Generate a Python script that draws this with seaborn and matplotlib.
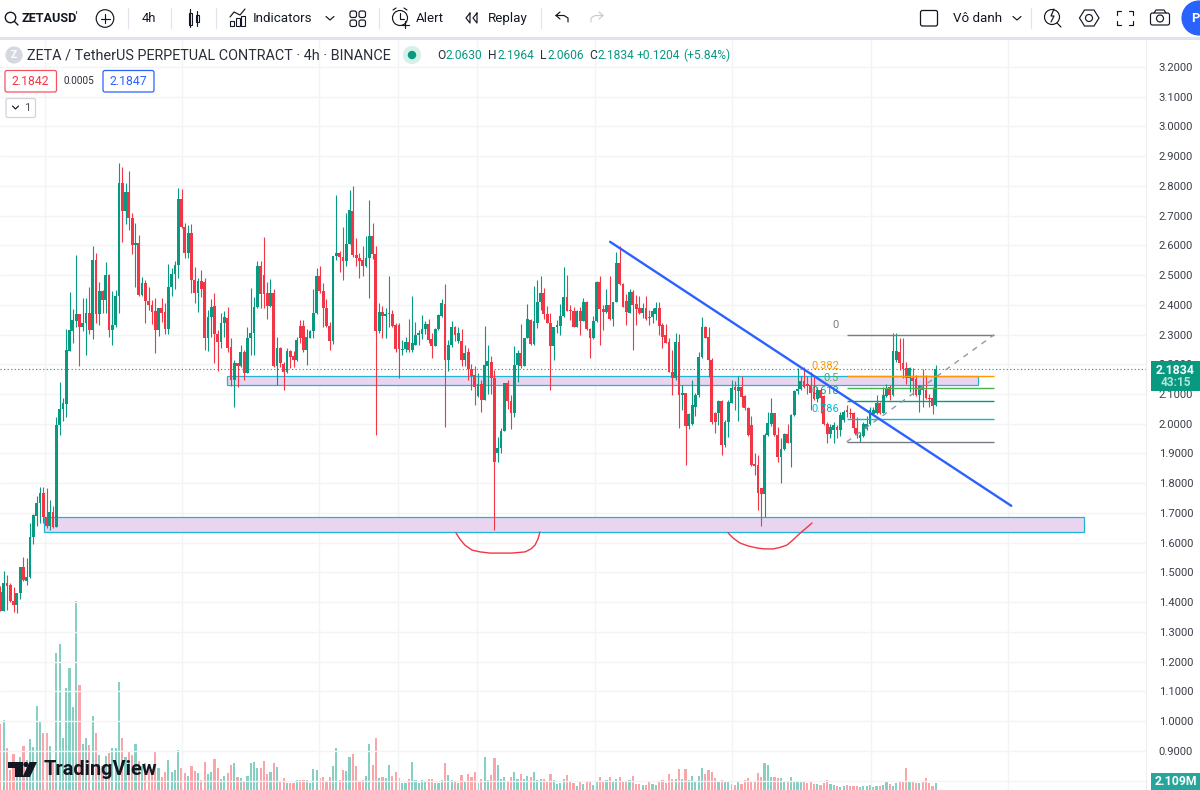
"""
ZETAUSD 4h chart in the style of a TradingView screenshot.
"""

import numpy as np
import pandas as pd
import matplotlib

matplotlib.use("Agg")
import matplotlib.pyplot as plt
from matplotlib.patches import Circle, Polygon, Rectangle, FancyBboxPatch
import seaborn as sns

# OHLC per bar
open_ = [
    1.435, 1.371, 1.463, 1.458, 1.404, 1.39, 1.43, 1.517, 1.472, 1.483,
    1.62, 1.69, 1.732, 1.766, 1.685, 1.656, 1.703, 1.654, 1.996, 2.048,
    2.066, 2.246, 2.313, 2.346, 2.368, 2.327, 2.338, 2.371, 2.315, 2.551,
    2.369, 2.447, 2.416, 2.5, 2.315, 2.331, 2.43, 2.809, 2.717, 2.779,
    2.692, 2.601, 2.609, 2.433, 2.475, 2.413, 2.401, 2.38, 2.315, 2.39,
    2.377, 2.319, 2.461, 2.504, 2.534, 2.756, 2.661, 2.575, 2.64, 2.483,
    2.439, 2.481, 2.476, 2.29, 2.36, 2.396, 2.301, 2.276, 2.34, 2.355,
    2.257, 2.147, 2.203, 2.194, 2.243, 2.172, 2.287, 2.304, 2.394, 2.532,
    2.5, 2.439, 2.397, 2.439, 2.194, 2.254, 2.2, 2.175, 2.245, 2.228,
    2.214, 2.329, 2.329, 2.248, 2.29, 2.312, 2.372, 2.497, 2.447, 2.391,
    2.329, 2.277, 2.565, 2.574, 2.56, 2.546, 2.605, 2.716, 2.566, 2.559,
    2.551, 2.529, 2.557, 2.633, 2.57, 2.312, 2.377, 2.361, 2.37, 2.37,
    2.333, 2.333, 2.247, 2.25, 2.274, 2.249, 2.265, 2.297, 2.302, 2.319, 2.336,
    2.284, 2.262, 2.318, 2.364, 2.402, 2.213, 2.265, 2.324, 2.28, 2.279,
    2.213, 2.24, 2.183, 2.164, 2.092, 2.134, 2.08, 2.193, 2.207, 2.153,
    1.9, 1.92, 1.977, 2.136, 2.077, 2.036, 2.198, 2.237, 2.193, 2.288,
    2.35, 2.269, 2.34, 2.409, 2.439, 2.369, 2.34, 2.26, 2.325, 2.33,
    2.364, 2.428, 2.383, 2.38, 2.327, 2.38, 2.347, 2.41, 2.318, 2.288,
    2.344, 2.478, 2.385, 2.375, 2.4, 2.353, 2.409, 2.54, 2.471, 2.414,
    2.374, 2.444, 2.402, 2.389, 2.372, 2.389, 2.36, 2.36, 2.37, 2.39,
    2.332, 2.298, 2.276, 2.175, 2.153, 2.276, 2.097, 2.102, 1.992, 2.0,
    2.057, 2.097, 2.223, 2.327, 2.293, 2.214, 2.035, 2.035, 2.078, 1.928,
    2.007, 2.07, 2.122, 2.11, 2.122, 2.093, 2.052, 1.995, 1.865, 1.861,
    1.783, 1.763, 1.962, 2.0, 2.035, 1.962, 1.887, 1.915, 1.965, 1.936,
    2.03, 2.11, 2.116, 2.145, 2.133, 2.13, 2.102, 2.082, 2.114, 2.093,
    2.0, 1.965, 1.98, 1.99, 1.979, 2.012, 2.046, 2.037, 2.035, 1.985,
    1.951, 1.959, 1.984, 2.0, 2.033, 2.035, 2.071, 2.037, 2.094, 2.122,
    2.097, 2.214, 2.243, 2.205, 2.186, 2.153, 2.153, 2.15, 2.097,
    2.127, 2.114, 2.088, 2.085, 2.063,
]
high = [
    1.454, 1.506, 1.49, 1.465, 1.452, 1.432, 1.519, 1.553, 1.55, 1.665,
    1.695, 1.757, 1.788, 1.788, 1.783, 1.745, 1.725, 2.022, 2.142, 2.085,
    2.318, 2.442, 2.385, 2.566, 2.368, 2.422, 2.422, 2.459, 2.598, 2.576,
    2.478, 2.45, 2.544, 2.504, 2.447, 2.45, 2.876, 2.862, 2.809, 2.849,
    2.708, 2.674, 2.635, 2.492, 2.484, 2.459, 2.416, 2.422, 2.39, 2.424,
    2.407, 2.537, 2.523, 2.549, 2.792, 2.788, 2.674, 2.668, 2.672, 2.528,
    2.489, 2.517, 2.491, 2.383, 2.418, 2.439, 2.315, 2.371, 2.379, 2.394,
    2.287, 2.214, 2.203, 2.265, 2.248, 2.324, 2.455, 2.425, 2.547, 2.547,
    2.629, 2.476, 2.487, 2.453, 2.293, 2.259, 2.209, 2.254, 2.248, 2.245,
    2.293, 2.35, 2.35, 2.32, 2.316, 2.453, 2.525, 2.529, 2.473, 2.419,
    2.343, 2.565, 2.77, 2.58, 2.661, 2.708, 2.787, 2.801, 2.624, 2.574,
    2.598, 2.63, 2.751, 2.675, 2.598, 2.405, 2.396, 2.389, 2.497, 2.383,
    2.338, 2.338, 2.282, 2.291, 2.353, 2.43, 2.341, 2.316, 2.365, 2.347, 2.352,
    2.304, 2.321, 2.369, 2.419, 2.47, 2.282, 2.344, 2.329, 2.327, 2.318,
    2.265, 2.254, 2.2, 2.193, 2.17, 2.147, 2.33, 2.265, 2.228, 2.18,
    1.955, 1.985, 2.138, 2.147, 2.097, 2.263, 2.249, 2.336, 2.29, 2.402,
    2.353, 2.464, 2.482, 2.497, 2.456, 2.397, 2.374, 2.327, 2.35, 2.402,
    2.526, 2.5, 2.4, 2.394, 2.383, 2.394, 2.422, 2.414, 2.321, 2.361,
    2.48, 2.497, 2.4, 2.453, 2.497, 2.411, 2.579, 2.598, 2.473, 2.437,
    2.454, 2.45, 2.432, 2.43, 2.405, 2.43, 2.383, 2.39, 2.41, 2.41,
    2.338, 2.335, 2.287, 2.248, 2.304, 2.302, 2.13, 2.102, 2.035, 2.147,
    2.102, 2.243, 2.36, 2.329, 2.327, 2.22, 2.04, 2.08, 2.08, 2.013,
    2.08, 2.147, 2.145, 2.16, 2.16, 2.097, 2.055, 2.026, 1.9, 1.895,
    1.783, 1.968, 2.04, 2.085, 2.037, 1.99, 1.951, 1.968, 2.0, 2.032,
    2.114, 2.186, 2.16, 2.19, 2.16, 2.175, 2.164, 2.125, 2.119, 2.097,
    2.007, 2.0, 2.007, 1.996, 2.04, 2.046, 2.063, 2.052, 2.04, 2.024,
    1.973, 2.007, 2.026, 2.057, 2.057, 2.097, 2.074, 2.122, 2.134, 2.13,
    2.304, 2.304, 2.287, 2.287, 2.209, 2.19, 2.186, 2.164, 2.13,
    2.183, 2.164, 2.1, 2.122, 2.1964,
]
low = [
    1.371, 1.371, 1.373, 1.402, 1.368, 1.365, 1.41, 1.472, 1.457, 1.48,
    1.594, 1.656, 1.665, 1.665, 1.65, 1.642, 1.65, 1.652, 1.962, 2.01,
    2.024, 2.244, 2.27, 2.327, 2.194, 2.313, 2.232, 2.302, 2.286, 2.34,
    2.333, 2.374, 2.371, 2.293, 2.264, 2.327, 2.371, 2.612, 2.672, 2.652,
    2.571, 2.461, 2.431, 2.431, 2.34, 2.383, 2.336, 2.237, 2.296, 2.343,
    2.302, 2.302, 2.431, 2.452, 2.489, 2.657, 2.556, 2.556, 2.439, 2.405,
    2.375, 2.427, 2.248, 2.246, 2.291, 2.203, 2.179, 2.254, 2.293, 2.243,
    2.127, 2.055, 2.123, 2.192, 2.147, 2.17, 2.231, 2.231, 2.388, 2.388,
    2.388, 2.351, 2.394, 2.19, 2.13, 2.19, 2.113, 2.17, 2.186, 2.192,
    2.211, 2.27, 2.24, 2.198, 2.288, 2.288, 2.37, 2.441, 2.327, 2.325,
    2.249, 2.269, 2.55, 2.512, 2.484, 2.529, 2.605, 2.562, 2.529, 2.49,
    2.497, 2.527, 2.422, 2.553, 1.963, 2.305, 2.288, 2.29, 2.325, 2.327,
    2.24, 2.153, 2.23, 2.243, 2.243, 2.243, 2.265, 2.265, 2.285, 2.301, 2.271,
    2.22, 2.26, 2.316, 2.36, 1.988, 2.179, 2.257, 2.277, 2.27, 2.195,
    2.193, 2.147, 2.112, 2.063, 2.09, 2.041, 2.08, 2.1, 2.1, 1.642,
    1.87, 1.9, 1.975, 2.05, 1.982, 2.024, 2.14, 2.187, 2.193, 2.288,
    2.265, 2.265, 2.321, 2.383, 2.353, 2.338, 2.112, 2.213, 2.305, 2.299,
    2.36, 2.378, 2.35, 2.325, 2.325, 2.297, 2.344, 2.316, 2.22, 2.286,
    2.342, 2.265, 2.316, 2.372, 2.35, 2.33, 2.409, 2.467, 2.392, 2.333,
    2.372, 2.249, 2.333, 2.37, 2.355, 2.35, 2.333, 2.34, 2.35, 2.3,
    2.254, 2.27, 2.175, 2.097, 2.147, 1.985, 2.046, 1.861, 1.981, 1.996,
    2.026, 2.091, 2.22, 2.287, 2.158, 2.0, 1.968, 1.996, 1.895, 1.923,
    1.957, 2.069, 2.046, 2.01, 2.058, 2.046, 1.959, 1.859, 1.827, 1.71,
    1.656, 1.685, 1.96, 1.992, 1.959, 1.872, 1.802, 1.912, 1.934, 1.853,
    2.026, 2.1, 2.113, 2.12, 2.1, 2.046, 2.08, 2.074, 2.035, 1.996,
    1.934, 1.951, 1.934, 1.951, 1.959, 2.007, 2.024, 2.018, 1.968, 1.951,
    1.94, 1.957, 1.98, 1.996, 2.03, 2.033, 2.033, 2.035, 2.09, 2.08,
    2.093, 2.208, 2.18, 2.153, 2.134, 2.108, 2.097, 2.093, 2.04,
    2.057, 2.082, 2.057, 2.033, 2.0606,
]
close = [
    1.371, 1.463, 1.454, 1.404, 1.39, 1.43, 1.517, 1.474, 1.483, 1.62,
    1.692, 1.732, 1.766, 1.685, 1.656, 1.703, 1.654, 1.996, 2.048, 2.069,
    2.248, 2.315, 2.349, 2.368, 2.327, 2.338, 2.371, 2.315, 2.551, 2.369,
    2.447, 2.416, 2.5, 2.315, 2.331, 2.431, 2.809, 2.717, 2.779, 2.692,
    2.601, 2.609, 2.433, 2.475, 2.413, 2.399, 2.377, 2.315, 2.39, 2.373,
    2.319, 2.461, 2.504, 2.534, 2.756, 2.661, 2.575, 2.64, 2.483, 2.439,
    2.481, 2.453, 2.29, 2.36, 2.394, 2.301, 2.276, 2.34, 2.36, 2.254,
    2.147, 2.203, 2.194, 2.243, 2.172, 2.287, 2.304, 2.394, 2.532, 2.435,
    2.435, 2.397, 2.439, 2.194, 2.254, 2.203, 2.175, 2.245, 2.226, 2.214,
    2.282, 2.29, 2.248, 2.293, 2.312, 2.372, 2.497, 2.445, 2.391, 2.329,
    2.277, 2.565, 2.574, 2.56, 2.546, 2.605, 2.719, 2.566, 2.559, 2.549,
    2.529, 2.557, 2.633, 2.57, 2.312, 2.377, 2.361, 2.37, 2.374, 2.329,
    2.25, 2.25, 2.251, 2.274, 2.249, 2.271, 2.299, 2.305, 2.319, 2.336, 2.282,
    2.262, 2.318, 2.367, 2.405, 2.213, 2.265, 2.324, 2.297, 2.305, 2.215,
    2.237, 2.183, 2.161, 2.125, 2.134, 2.08, 2.196, 2.21, 2.153, 1.871,
    1.92, 1.977, 2.136, 2.075, 2.036, 2.198, 2.237, 2.195, 2.288, 2.352,
    2.269, 2.347, 2.409, 2.439, 2.369, 2.34, 2.26, 2.325, 2.333, 2.364,
    2.428, 2.38, 2.378, 2.327, 2.38, 2.347, 2.409, 2.318, 2.29, 2.344,
    2.478, 2.385, 2.375, 2.4, 2.353, 2.411, 2.54, 2.471, 2.394, 2.377,
    2.444, 2.4, 2.386, 2.372, 2.391, 2.353, 2.357, 2.378, 2.39, 2.33,
    2.293, 2.27, 2.175, 2.153, 2.276, 2.097, 2.102, 1.992, 2.033, 2.063,
    2.097, 2.226, 2.327, 2.29, 2.214, 2.007, 2.007, 2.078, 1.928, 2.007,
    2.074, 2.12, 2.114, 2.122, 2.09, 2.052, 1.962, 1.861, 1.858, 1.766,
    1.763, 1.962, 2.004, 2.035, 1.962, 1.887, 1.915, 1.965, 1.936, 2.03,
    2.11, 2.116, 2.145, 2.122, 2.127, 2.102, 2.082, 2.114, 2.085, 2.0,
    1.965, 1.99, 1.995, 1.979, 2.03, 2.04, 2.04, 2.033, 1.985, 1.962,
    1.962, 2.0, 2.0, 2.046, 2.046, 2.071, 2.035, 2.097, 2.119, 2.097,
    2.245, 2.245, 2.203, 2.183, 2.153, 2.186, 2.145, 2.097, 2.127,
    2.114, 2.085, 2.082, 2.06, 2.1834,
]

# volume in millions
volume = [
    21.7, 23.2, 13.8, 6.6, 11.9, 8.5, 11, 14.4, 9.9, 16.7, 14.1, 27.7, 22.7, 18.9, 18.9,
    14.4, 9.9, 45.2, 48.3, 17, 33.6, 40.4, 27.3, 62.4, 34.8, 15.1, 17, 14.8, 24.4, 18.9,
    11.7, 8, 11.3, 12.2, 14, 14, 35.7, 17, 11, 12.6, 11.7, 15.1, 9.7, 8, 8.8,
    7.4, 6.9, 12.9, 7.1, 4.4, 6, 10, 6, 6.6, 13.1, 7.2, 5.7, 4.7, 7.8, 6.3,
    5.7, 3.3, 9.3, 5.3, 6, 10.2, 7.2, 3.6, 4.7, 5.7, 8.1, 9, 4.3, 4, 3.1,
    4.7, 8.8, 9.3, 7.2, 7.2, 9.7, 5.3, 6, 9, 7.6, 3.1, 4, 2.4, 2.4, 2.2,
    3.3, 3.3, 3.3, 3.3, 2.2, 6.9, 6.6, 4, 4.3, 2.7, 4.3, 7.8, 13.8, 3.3, 6.6,
    6.2, 11, 11.9, 8, 3.1, 3.3, 4.7, 15.3, 8.1, 17, 4, 4.3, 4, 8.4, 4.7,
    6, 4, 2.4, 2.4, 3.7, 9.3, 3.3, 2.4, 3.3, 2.8, 3.7, 3.7, 2.4, 2.2, 3.3,
    8.8, 5, 3.3, 2.8, 2.2, 5, 2.8, 5.3, 4.3, 6, 2.4, 3.7, 11, 3.3, 5,
    10.7, 8.1, 3.6, 4.3, 3, 4.3, 5.9, 3.7, 5.3, 3.7, 4.7, 4.3, 5.9, 3.3, 3.7,
    3.7, 2.8, 5.3, 3.3, 2, 2.2, 3.7, 5, 2.6, 2.2, 1.3, 2.6, 2, 2.6, 3,
    1.7, 3, 4.3, 2.6, 3.3, 4.3, 2.6, 3.7, 4.3, 3, 3, 3.3, 4.7, 2, 2,
    1.7, 1.7, 3, 2, 1.7, 3, 3.3, 2.2, 5.3, 3.7, 3.7, 6.9, 3.7, 6.9, 3.3,
    4.7, 2.8, 4.7, 7.2, 5.3, 6.5, 5.9, 4, 3, 3.3, 2.8, 2.8, 1.9, 1.7, 2.8,
    1.9, 3.4, 3.8, 2.8, 2.6, 5.7, 4.3, 8.9, 8.4, 4.3, 4.3, 4, 4, 2.8, 3.1,
    4.3, 2.8, 2.8, 3.1, 2.6, 2.2, 2.8, 1.9, 1.9, 1.7, 2.2, 3.4, 1.9, 1.7, 1.2,
    0.9, 1.2, 1.7, 1.2, 1.2, 1.2, 0.9, 1.2, 1.2, 1.7, 0.9, 1.2, 1.2, 1.7, 2.6,
    1.9, 1.2, 2.2, 3.1, 2.6, 7.2, 2.6, 2.8, 2.2, 2.2, 2.8, 3.8, 2.2, 1.2, 2.2,
]

price_ticks = [round(0.8 + 0.1 * i, 1) for i in range(25)]
grid_bars = [13.4, 55.1, 96.7, 120.7, 144.7, 180.5, 222.1, 264.2, 306.0]
last_price = 2.1834

# drawings on the chart
zone_low = (13.3, 329.0, 1.637, 1.685)
zone_mid = (68.9, 296.9, 2.130, 2.161)
trend_bars = [185.1, 306.9]
trend_prices = [2.612, 1.724]
fib_bars = [256.9, 301.7]
fib_labels = ["0", "0.382", "0.5", "0.618", "0.786", ""]
fib_prices = [2.2996, 2.161, 2.119, 2.0756, 2.015, 1.939]
fib_colors = ["#787b86", "#ff9800", "#4caf50", "#089981", "#00bcd4", "#787b86"]
curve1_bars = [138.3, 139.5, 141.0, 143.2, 145.6, 148.6, 151.7, 155.3, 159.3, 161.1, 162.3, 163.2, 163.8]
curve1_prices = [1.633, 1.612, 1.592, 1.575, 1.569, 1.565, 1.565, 1.565, 1.569, 1.579, 1.592, 1.612, 1.636]
curve2_bars = [220.9, 222.4, 224.5, 227.0, 229.7, 232.1, 234.6, 236.7, 238.8, 240.6, 242.2, 244.3, 246.4]
curve2_prices = [1.633, 1.616, 1.599, 1.589, 1.582, 1.579, 1.579, 1.584, 1.592, 1.609, 1.626, 1.646, 1.666]

UP = "#089981"
DOWN = "#f23645"
DARK = "#131722"
GRID = "#f3f4f6"

sns.set_theme(style="white")
plt.rcParams["font.family"] = ["Roboto", "DejaVu Sans"]

fig = plt.figure(figsize=(12, 7.9), dpi=100, facecolor="white")
rect = [0, 0, 1146 / 1200, 750 / 790]
ax = fig.add_axes(rect, zorder=2)
ax.patch.set_visible(False)
vol_ax = fig.add_axes(rect, zorder=1, sharex=ax)

o, h, l, c = map(np.array, (open_, high, low, close))
bars = np.arange(len(o))
colors = np.where(c >= o, UP, DOWN)

# Volumen
vol_df = pd.DataFrame({"bar": bars, "vol": volume, "dir": np.where(c >= o, "g", "r")})
sns.barplot(
    data=vol_df, x="bar", y="vol", hue="dir", native_scale=True, dodge=False,
    palette={"g": "#85cfc3", "r": "#f9a5a9"}, width=0.66, saturation=1,
    linewidth=0, legend=False, ax=vol_ax,
)
vol_ax.set_ylim(0, 750 * 0.33)
vol_ax.set_axis_off()

# Kerzen
ax.vlines(bars, l, h, colors=colors, lw=0.8, zorder=4)
ax.bar(bars, np.maximum(np.abs(c - o), 0.003), bottom=np.minimum(o, c), width=0.85,
       color=colors, linewidth=0, zorder=5)

# Zonen
for x0, x1, y0, y1 in (zone_low, zone_mid):
    ax.add_patch(Rectangle((x0, y0), x1 - x0, y1 - y0, facecolor="#e9d5f0",
                           edgecolor="#1fb5d6", lw=0.9, zorder=2))

# Fibonacci
for text, level, color in zip(fib_labels, fib_prices, fib_colors):
    ax.hlines(level, fib_bars[0], fib_bars[1], color=color, lw=1, zorder=6)
    ax.text(254.6, level + 0.034, text, color=color, ha="right", va="center",
            fontsize=7.9, zorder=7)
ax.plot(fib_bars, [fib_prices[-1], fib_prices[0]], color="#9598a1", lw=1,
        ls=(0, (4, 4)), zorder=6)

sns.lineplot(x=trend_bars, y=trend_prices, color="#2962ff", lw=1.7, ax=ax, zorder=7,
             errorbar=None, sort=False)
ax.plot(curve1_bars, curve1_prices, color=DOWN, lw=1, zorder=7, solid_joinstyle="round")
ax.plot(curve2_bars, curve2_prices, color=DOWN, lw=1, zorder=7, solid_joinstyle="round")

ax.axhline(last_price, color=UP, lw=0.8, ls=(0, (1, 2.2)), zorder=3)

# Achsen
ax.set_xlim(-0.12, 347.8)
ax.set_ylim(0.7681, 3.2908)
ax.yaxis.tick_right()
ax.set_yticks(price_ticks)
# 0.8000 sitzt im Original komplett unter dem Volumen-Schild
ax.set_yticklabels(["" if t == 0.8 else f"{t:.4f}" for t in price_ticks],
                   fontsize=8.1, color="#3b3f4a")
ax.set_xticks(grid_bars)
ax.set_xticklabels([])
ax.tick_params(axis="both", length=0)
ax.tick_params(axis="y", pad=9.2)
ax.grid(True, color=GRID, lw=1)
ax.set_axisbelow(True)
ax.set_xlabel("")
ax.set_ylabel("")
for spine in ax.spines.values():
    spine.set_visible(False)

# Oberfläche in Pixeln
ui = fig.add_axes([0, 0, 1, 1], zorder=5)
ui.set_xlim(0, 1200)
ui.set_ylim(790, 0)
ui.set_axis_off()
ui.patch.set_visible(False)


def label(x, y, s, size=13.5, color=DARK, ha="left", weight="normal"):
    ui.text(x, y, s, fontsize=size * 0.72, color=color, ha=ha, va="center", fontweight=weight)


def stroke(xs, ys, color=DARK, lw=0.85):
    ui.plot(xs, ys, color=color, lw=lw, solid_capstyle="round", solid_joinstyle="round")


def ring(x, y, r, color=DARK, fill="none", lw=0.85):
    ui.add_patch(Circle((x, y), r, facecolor=fill, edgecolor=color, lw=lw))


def box(x0, y0, x1, y1, edge, fill="white", lw=0.9):
    ui.add_patch(FancyBboxPatch((x0 + 2, y0 + 2), x1 - x0 - 4, y1 - y0 - 4,
                                boxstyle="round,pad=2", facecolor=fill, edgecolor=edge, lw=lw))


ui.add_patch(Rectangle((0, 0), 1200, 36.5, facecolor="white", edgecolor="none"))
ui.add_patch(Rectangle((0, 36.5), 1200, 3.2, facecolor="#e0e3eb", edgecolor="none"))
ui.plot([1146, 1146], [40, 790], color="#eceef2", lw=0.8)

# Toolbar links
ring(10.5, 17.5, 5.2, lw=1)
stroke([14.5, 18], [21.5, 25], lw=1)
label(22, 18.5, "ZETAUSD", 12.6, weight="bold")
label(75.5, 15, "'", 9, weight="bold")
ring(105, 18.5, 8.8)
stroke([100.5, 109.5], [18.5, 18.5])
stroke([105, 105], [14, 23])
for sep_x in (128, 171, 216, 379, 541, 1031):
    stroke([sep_x, sep_x], [8, 28], color="#e0e3eb")
label(149, 18.5, "4h", 13, ha="center")
ui.add_patch(Rectangle((188.5, 12.5), 3.5, 12, facecolor="none", edgecolor=DARK, lw=0.8))
stroke([190.2, 190.2], [9, 27])
ui.add_patch(Rectangle((195.5, 15), 3.5, 7, facecolor="none", edgecolor=DARK, lw=0.8))
stroke([197.2, 197.2], [11, 26])
# Indicators
stroke([230, 234, 240, 245], [17, 12, 15, 9])
for bx, bh in ((230, 5), (235.5, 8), (241, 10)):
    ui.add_patch(Rectangle((bx, 26 - bh), 4, bh, facecolor="none", edgecolor=DARK, lw=0.8))
label(253, 18.5, "Indicators", 13.4)
stroke([326, 330, 334], [16.5, 20, 16.5])
for gx, gy in ((350, 11), (359, 11), (350, 20), (359, 20)):
    box(gx, gy, gx + 6.5, gy + 6.5, DARK, lw=0.85)
# Alert
ring(400, 18, 7.5)
stroke([400, 400, 404], [13, 19, 19])
stroke([393, 396], [10, 8])
stroke([404, 407], [8, 10])
stroke([405, 405], [21, 28])
stroke([401.5, 408.5], [24.5, 24.5])
label(416, 18.5, "Alert", 13.4)
stroke([470, 466, 470, 470], [13, 18, 23, 13])
stroke([477, 473, 477, 477], [13, 18, 23, 13])
label(488, 18.5, "Replay", 13.4)
stroke([556, 560], [15.5, 12])
stroke([556, 560], [15.5, 19])
stroke([556, 564, 568, 568], [15.5, 15.5, 18, 22])
stroke([603, 599], [15.5, 12], color="#c9cbd3")
stroke([603, 599], [15.5, 19], color="#c9cbd3")
stroke([603, 595, 591, 591], [15.5, 15.5, 18, 22], color="#c9cbd3")

# Toolbar rechts
box(920.5, 10.5, 937.5, 26, DARK, lw=0.9)
label(953, 18.5, "Vô danh", 13.4)
stroke([1013, 1017, 1021], [16.5, 20, 16.5])
ring(1052, 17, 7.5)
stroke([1057, 1061], [23, 27])
stroke([1054, 1051, 1054, 1051], [9, 16, 16, 22])
ui.add_patch(Polygon([(1079.5, 18), (1084.5, 10), (1094, 10), (1099, 18), (1094, 26), (1084.5, 26)],
                     closed=True, facecolor="none", edgecolor=DARK, lw=0.85))
ring(1089, 18, 3.5)
for fx, fy, dx, dy in ((1117, 11, 1, 1), (1133, 11, -1, 1), (1117, 25, 1, -1), (1133, 25, -1, -1)):
    stroke([fx + 4 * dx, fx, fx], [fy, fy, fy + 4 * dy])
box(1150.5, 13, 1169.5, 25, DARK, lw=0.85)
ring(1160, 18.5, 3.5)
stroke([1154, 1156, 1164, 1166], [13, 10, 10, 13])
ring(1199, 18, 17, color="#2962ff", fill="#2962ff")
label(1191, 18.5, "P", 13, color="white", weight="bold")

# Legendenzeile
ring(14, 55, 8, color="#d6d8e0", fill="#d6d8e0")
label(14, 55.5, "Z", 10, color="white", ha="center", weight="bold")
label(27, 55.5, "ZETA / TetherUS PERPETUAL CONTRACT · 4h · BINANCE", 14.4, color="#2a2e39")
ring(412, 55, 8.5, color="#d8f0ea", fill="#d8f0ea")
ring(412, 55, 3.6, color=UP, fill=UP)
for tx, key, vx, val in ((437, "O", 446, "2.0630"), (488, "H", 497.5, "2.1964"),
                         (540, "L", 547, "2.0606"), (589, "C", 597, "2.1834")):
    label(tx, 55.5, key, 12, color="#2a2e39")
    label(vx, 55.5, val, 12, color=UP)
label(637, 55.5, "+0.1204", 12, color=UP)
label(683, 55.5, "(+5.84%)", 12, color=UP)

box(5, 70.5, 56.5, 92, "#f7525f")
label(30.7, 81.5, "2.1842", 12.2, color=DOWN, ha="center")
label(79, 81.5, "0.0005", 10, color="#2a2e39", ha="center")
box(103, 70.5, 154, 92, "#2962ff")
label(128.5, 81.5, "2.1847", 12.2, color="#2962ff", ha="center")
box(6, 98.5, 35.5, 117.5, "#d1d4dc")
stroke([12.5, 15.5, 18.5], [106, 109, 106])
label(27.5, 108, "1", 11.5, color="#50535e", ha="center")

# Preisschilder
ui.add_patch(Rectangle((1151, 361), 49, 30, facecolor=UP, edgecolor="none"))
label(1175.5, 370, "2.1834", 12.2, color="white", ha="center", weight="bold")
label(1175.5, 383, "43:15", 11.8, color="#b5e3da", ha="center", weight="bold")
ui.add_patch(Rectangle((1151, 773), 49, 17, facecolor="#26a69a", edgecolor="none"))
label(1175.5, 781.5, "2.109M", 12.2, color="white", ha="center", weight="bold")

# Logo
ui.add_patch(Polygon([(8, 762), (22.5, 762), (22.5, 777), (15, 777), (15, 767.5), (8, 767.5)],
                     closed=True, facecolor=DARK, edgecolor="none"))
ui.add_patch(Circle((26, 764.5), 2.6, facecolor=DARK, edgecolor="none"))
ui.add_patch(Polygon([(29.5, 762), (37, 762), (30, 777), (22.5, 777)],
                     closed=True, facecolor=DARK, edgecolor="none"))
label(43.5, 769.5, "TradingView", 20, weight="bold")

fig.savefig("out.png", dpi=100)
